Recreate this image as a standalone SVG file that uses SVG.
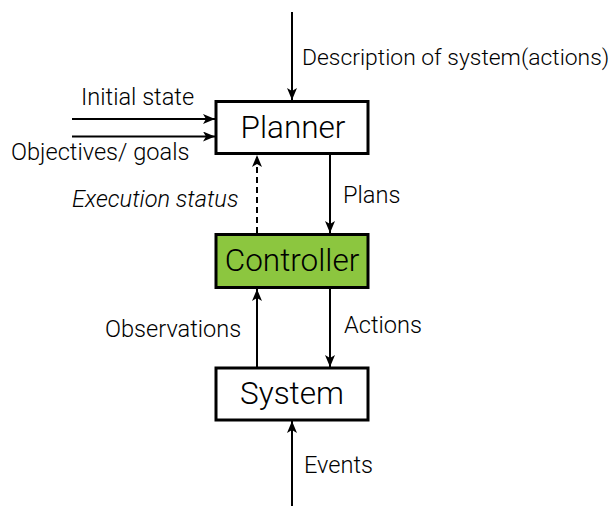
<svg xmlns="http://www.w3.org/2000/svg" width="616" height="506" viewBox="0 0 616 506">
<style>
.box{stroke:#000;stroke-width:3;fill:#fff}
.ctrl{fill:#8cc63f}
.name{font-family:Roboto,"Liberation Sans",Arial,sans-serif;font-weight:300;font-size:31.5px;fill:#000;text-anchor:middle}
.lbl{font-family:Roboto,"Liberation Sans",Arial,sans-serif;font-weight:300;font-size:23.6px;fill:#000}
.sm{font-size:22.9px}
.it{font-style:italic}
.edge{stroke:#000;stroke-width:2;fill:none;marker-end:url(#ah)}
.dash{stroke-dasharray:6 4}
</style>
<defs>
<marker id="ah" viewBox="0 0 12 10" refX="12" refY="5" markerWidth="12" markerHeight="10" markerUnits="userSpaceOnUse" orient="auto">
<path d="M0,0 L12,5 L0,10 L3,5 Z" fill="#000"/>
</marker>
</defs>
<rect width="616" height="506" fill="#fff"/>
<g id="connectors">
<line class="edge" x1="292" y1="12" x2="292" y2="100"/>
<line class="edge" x1="72" y1="119" x2="215" y2="119"/>
<line class="edge" x1="72" y1="136.5" x2="215" y2="136.5"/>
<line class="edge dash" x1="257" y1="233" x2="257" y2="155"/>
<line class="edge" x1="330" y1="153" x2="330" y2="233"/>
<line class="edge" x1="257" y1="367" x2="257" y2="289"/>
<line class="edge" x1="330" y1="288" x2="330" y2="367"/>
<line class="edge" x1="292" y1="506" x2="292" y2="421"/>
<text class="lbl sm" x="302" y="65">Description of system(actions)</text>
<text class="lbl" x="81" y="105">Initial state</text>
<text class="lbl" x="11" y="160">Objectives/ goals</text>
<text class="lbl it" x="72" y="207">Execution status</text>
<text class="lbl" x="343" y="203">Plans</text>
<text class="lbl" x="105" y="337">Observations</text>
<text class="lbl" x="344" y="333">Actions</text>
<text class="lbl" x="304" y="473">Events</text>
</g>
<g id="planner">
<rect class="box" x="216" y="101.5" width="152" height="52"/>
<text class="name" x="293" y="138">Planner</text>
</g>
<g id="controller">
<rect class="box ctrl" x="216" y="234.5" width="152" height="53"/>
<text class="name" x="292" y="271">Controller</text>
</g>
<g id="system">
<rect class="box" x="216" y="368" width="152" height="52"/>
<text class="name" x="292" y="404">System</text>
</g>
</svg>
